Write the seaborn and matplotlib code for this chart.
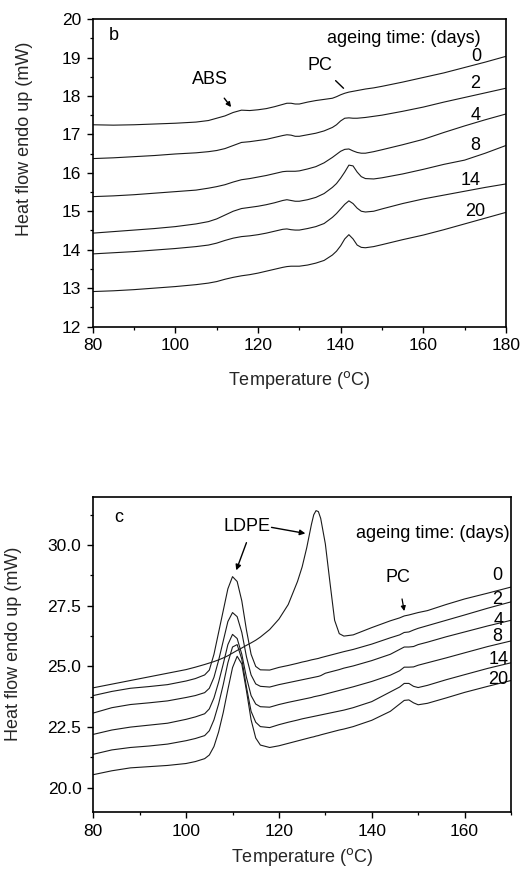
import matplotlib
matplotlib.use("Agg")
import matplotlib.pyplot as plt
import seaborn as sns
import pandas as pd
from matplotlib.ticker import MultipleLocator

# ---------------- data: panel b ----------------
temp_b = [80, 85, 90, 95, 100, 105, 108, 110, 112, 114, 116, 118, 120, 122, 124,
          126, 127, 128, 129, 130, 132, 134, 136, 138, 139, 140, 141, 142, 143, 144,
          145, 146, 148, 150, 155, 160, 165, 170, 175, 180]
b_day0 = [17.25, 17.24, 17.25, 17.27, 17.29, 17.32, 17.36, 17.42, 17.48, 17.57, 17.63, 17.62,
          17.64, 17.67, 17.72, 17.78, 17.81, 17.81, 17.79, 17.79, 17.84, 17.88, 17.91, 17.94,
          17.98, 18.03, 18.07, 18.10, 18.12, 18.14, 18.16, 18.18, 18.21, 18.25, 18.36, 18.48,
          18.60, 18.74, 18.88, 19.03]
b_day2 = [16.37, 16.39, 16.42, 16.45, 16.49, 16.52, 16.55, 16.58, 16.63, 16.71, 16.79, 16.81,
          16.84, 16.87, 16.92, 16.97, 16.99, 16.98, 16.95, 16.95, 16.99, 17.03, 17.09, 17.18,
          17.25, 17.35, 17.42, 17.43, 17.42, 17.42, 17.43, 17.44, 17.47, 17.50, 17.60, 17.71,
          17.84, 17.96, 18.08, 18.20]
b_day4 = [15.38, 15.40, 15.43, 15.47, 15.51, 15.55, 15.60, 15.64, 15.69, 15.76, 15.82, 15.85,
          15.89, 15.93, 15.98, 16.03, 16.04, 16.04, 16.04, 16.05, 16.10, 16.16, 16.26, 16.40,
          16.48, 16.56, 16.61, 16.62, 16.57, 16.53, 16.51, 16.51, 16.55, 16.60, 16.73, 16.87,
          17.05, 17.22, 17.38, 17.53]
b_day8 = [14.43, 14.47, 14.51, 14.55, 14.60, 14.67, 14.73, 14.80, 14.90, 15.00, 15.07, 15.10,
          15.13, 15.17, 15.22, 15.28, 15.30, 15.28, 15.26, 15.26, 15.30, 15.36, 15.46, 15.62,
          15.72, 15.86, 16.02, 16.20, 16.18, 16.02, 15.90, 15.85, 15.84, 15.87, 15.97, 16.09,
          16.22, 16.33, 16.51, 16.71]
b_day14 = [13.89, 13.92, 13.95, 13.99, 14.03, 14.08, 14.12, 14.17, 14.24, 14.30, 14.34, 14.36,
           14.39, 14.43, 14.48, 14.53, 14.54, 14.52, 14.51, 14.51, 14.55, 14.60, 14.68, 14.84,
           14.94, 15.06, 15.18, 15.27, 15.20, 15.08, 15.00, 14.98, 15.00, 15.06, 15.20, 15.32,
           15.42, 15.52, 15.62, 15.71]
b_day20 = [12.91, 12.93, 12.96, 13.00, 13.04, 13.09, 13.13, 13.17, 13.23, 13.28, 13.32, 13.35,
           13.39, 13.44, 13.49, 13.54, 13.56, 13.57, 13.57, 13.57, 13.60, 13.65, 13.72, 13.86,
           13.96, 14.10, 14.28, 14.39, 14.28, 14.12, 14.06, 14.05, 14.08, 14.13, 14.26, 14.38,
           14.52, 14.67, 14.82, 14.97]

# ---------------- data: panel c ----------------
temp_c = [80, 84, 88, 92, 96, 100, 102, 104, 105, 106, 107, 108, 109, 110, 111, 112, 113,
          114, 115, 116, 118, 120, 122, 124, 125, 126, 127, 127.5, 128, 128.5, 129, 130, 131,
          132, 133, 134, 136, 140, 144, 146, 147, 148, 149, 150, 152, 156, 160, 165, 170]
c_day0 = [24.12, 24.27, 24.42, 24.57, 24.72, 24.87, 24.97, 25.08, 25.14, 25.20, 25.27, 25.35,
          25.44, 25.55, 25.66, 25.76, 25.87, 25.97, 26.08, 26.21, 26.52, 26.95, 27.55, 28.50,
          29.10, 29.90, 30.85, 31.25, 31.42, 31.38, 31.10, 30.05, 28.45, 26.90, 26.35, 26.25,
          26.30, 26.60, 26.88, 27.00, 27.08, 27.12, 27.17, 27.22, 27.30, 27.55, 27.78, 28.02,
          28.27]
c_day2 = [23.80, 23.97, 24.10, 24.17, 24.25, 24.40, 24.50, 24.65, 24.85, 25.50, 26.40, 27.30,
          28.20, 28.70, 28.50, 27.70, 26.50, 25.50, 25.00, 24.86, 24.85, 24.96, 25.04, 25.13,
          25.18, 25.22, 25.27, 25.29, 25.31, 25.33, 25.36, 25.41, 25.46, 25.51, 25.56, 25.61,
          25.70, 25.92, 26.18, 26.30, 26.40, 26.42, 26.50, 26.57, 26.68, 26.90, 27.12, 27.40,
          27.66]
c_day4 = [23.08, 23.30, 23.43, 23.50, 23.58, 23.72, 23.80, 23.92, 24.10, 24.55, 25.25, 26.05,
          26.85, 27.22, 27.05, 26.40, 25.40, 24.65, 24.28, 24.18, 24.15, 24.25, 24.33, 24.41,
          24.45, 24.49, 24.53, 24.55, 24.57, 24.59, 24.62, 24.72, 24.77, 24.82, 24.87, 24.93,
          25.02, 25.24, 25.50, 25.70, 25.80, 25.80, 25.82, 25.90, 26.00, 26.22, 26.42, 26.67,
          26.90]
c_day8 = [22.20, 22.38, 22.50, 22.58, 22.66, 22.82, 22.92, 23.05, 23.25, 23.70, 24.35, 25.10,
          25.90, 26.32, 26.15, 25.50, 24.55, 23.80, 23.45, 23.34, 23.32, 23.43, 23.52, 23.60,
          23.64, 23.68, 23.72, 23.75, 23.77, 23.79, 23.81, 23.86, 23.91, 23.96, 24.01, 24.06,
          24.16, 24.38, 24.64, 24.82, 24.97, 24.97, 24.98, 25.05, 25.15, 25.35, 25.56, 25.82,
          26.05]
c_day14 = [21.38, 21.56, 21.66, 21.72, 21.80, 21.94, 22.03, 22.15, 22.35, 22.80, 23.45, 24.25,
           25.15, 25.80, 25.90, 25.30, 24.15, 23.15, 22.70, 22.52, 22.48, 22.60, 22.70, 22.79,
           22.84, 22.88, 22.92, 22.94, 22.96, 22.98, 23.00, 23.04, 23.08, 23.12, 23.16, 23.20,
           23.30, 23.55, 23.95, 24.15, 24.30, 24.30, 24.18, 24.13, 24.22, 24.45, 24.66, 24.92,
           25.15]
c_day20 = [20.54, 20.70, 20.82, 20.87, 20.92, 21.00, 21.08, 21.20, 21.35, 21.70, 22.30, 23.10,
           24.05, 24.95, 25.42, 25.10, 24.00, 22.80, 22.05, 21.76, 21.66, 21.73, 21.83, 21.93,
           21.98, 22.03, 22.08, 22.10, 22.13, 22.15, 22.18, 22.23, 22.28, 22.33, 22.38, 22.42,
           22.52, 22.78, 23.15, 23.45, 23.60, 23.62, 23.50, 23.42, 23.48, 23.70, 23.93, 24.18,
           24.42]

ageing_days = ["0", "2", "4", "8", "14", "20"]
series_b = [b_day0, b_day2, b_day4, b_day8, b_day14, b_day20]
series_c = [c_day0, c_day2, c_day4, c_day8, c_day14, c_day20]

xticks_b = [80, 100, 120, 140, 160, 180]
yticks_b = [12, 13, 14, 15, 16, 17, 18, 19, 20]
xticks_c = [80, 100, 120, 140, 160]
yticks_c = [20.0, 22.5, 25.0, 27.5, 30.0]

# ---------------- style ----------------
sns.set_theme(style="ticks")
plt.rcParams['font.family'] = ['Liberation Sans', 'DejaVu Sans']
plt.rcParams['axes.edgecolor'] = 'black'
plt.rcParams['axes.linewidth'] = 1.2
plt.rcParams['xtick.color'] = 'black'
plt.rcParams['ytick.color'] = 'black'
plt.rcParams['text.color'] = 'black'

fig = plt.figure(figsize=(5.25, 8.71), dpi=100)
ax_b = fig.add_axes([0.1766, 0.6251, 0.787, 0.353])
ax_c = fig.add_axes([0.1777, 0.0677, 0.7956, 0.3622])

def long_df(temps, series):
    rows = []
    for day, vals in zip(ageing_days, series):
        for t, v in zip(temps, vals):
            rows.append((day, t, v))
    return pd.DataFrame(rows, columns=["days", "T", "Q"])

df_b = long_df(temp_b, series_b)
df_c = long_df(temp_c, series_c)
pal = {d: "#1a1a1a" for d in ageing_days}

for ax, df in ((ax_b, df_b), (ax_c, df_c)):
    sns.lineplot(data=df, x="T", y="Q", hue="days", units="days", estimator=None,
                 palette=pal, linewidth=0.8, legend=False, ax=ax)
    for s in ax.spines.values():
        s.set_visible(True)
        s.set_color('black')
        s.set_linewidth(1.2)
    ax.tick_params(which='major', direction='out', length=4.5, width=1, pad=4)
    ax.tick_params(which='minor', direction='out', length=2.5, width=0.9)
    ax.set_ylabel("Heat flow endo up (mW)", fontsize=13)

ax_b.set_xlabel("Temperature ($^{\\rm o}$C)", fontsize=13, labelpad=11)
ax_c.set_xlabel("Temperature ($^{\\rm o}$C)", fontsize=13, labelpad=5)

# panel b axes
ax_b.set_xlim(80, 180)
ax_b.set_ylim(12, 20)
ax_b.set_xticks(xticks_b)
ax_b.set_yticks(yticks_b)
ax_b.set_xticklabels([str(v) for v in xticks_b], fontsize=12.5)
ax_b.set_yticklabels([str(v) for v in yticks_b], fontsize=12.5)
ax_b.xaxis.set_minor_locator(MultipleLocator(10))
ax_b.yaxis.set_minor_locator(MultipleLocator(0.5))
ax_b.yaxis.set_label_coords(-0.145, 0.61)

# panel c axes
ax_c.set_xlim(80, 170)
ax_c.set_ylim(19, 32)
ax_c.set_xticks(xticks_c)
ax_c.set_yticks(yticks_c)
ax_c.set_xticklabels([str(v) for v in xticks_c], fontsize=12.5)
ax_c.set_yticklabels([f"{v:.1f}" for v in yticks_c], fontsize=12.5)
ax_c.xaxis.set_minor_locator(MultipleLocator(10))
ax_c.yaxis.set_minor_locator(MultipleLocator(1.25))
ax_c.yaxis.set_label_coords(-0.171, 0.534)

# ---------------- annotations panel b ----------------
fs = 13
ax_b.text(85.0, 19.57, "b", fontsize=fs, ha='center', va='center')
ax_b.text(173.8, 19.50, "ageing time: (days)", fontsize=fs, ha='right', va='center')
lab_pos_b = [(172.8, 19.02), (172.6, 18.33), (172.6, 17.48), (172.6, 16.7), (171.4, 15.8), (172.6, 15.0)]
for d, (x, y) in zip(ageing_days, lab_pos_b):
    ax_b.text(x, y, d, fontsize=fs, ha='center', va='center')
ax_b.annotate("ABS", xy=(113.5, 17.71), xytext=(108.4, 18.42), fontsize=fs,
              ha='center', va='center',
              arrowprops=dict(arrowstyle='-|>', color='black', lw=1.0, mutation_scale=7,
                              shrinkA=6, shrinkB=0))
ax_b.annotate("PC", xy=(140.7, 18.2), xytext=(135.1, 18.78), fontsize=fs,
              ha='center', va='center',
              arrowprops=dict(arrowstyle='-', color='black', lw=1.0, shrinkA=3, shrinkB=0))

# ---------------- annotations panel c ----------------
ax_c.text(85.4, 31.15, "c", fontsize=fs, ha='center', va='center')
ax_c.text(169.8, 30.46, "ageing time: (days)", fontsize=fs, ha='right', va='center')
lab_pos_c = [(167.1, 28.73), (167.1, 27.76), (167.3, 26.9), (167.1, 26.22), (167.3, 25.28), (167.3, 24.45)]
for d, (x, y) in zip(ageing_days, lab_pos_c):
    ax_c.text(x, y, d, fontsize=fs, ha='center', va='center')
ax_c.text(113.1, 30.76, "LDPE", fontsize=fs, ha='center', va='center')
ax_c.annotate("", xy=(110.8, 28.96), xytext=(113.0, 30.1),
              arrowprops=dict(arrowstyle='-|>', color='black', lw=1.0, mutation_scale=8,
                              shrinkA=0, shrinkB=0))
ax_c.annotate("", xy=(125.7, 30.48), xytext=(118.4, 30.73),
              arrowprops=dict(arrowstyle='-|>', color='black', lw=1.0, mutation_scale=8,
                              shrinkA=0, shrinkB=0))
ax_c.annotate("PC", xy=(147.0, 27.28), xytext=(145.7, 28.66), fontsize=fs,
              ha='center', va='center',
              arrowprops=dict(arrowstyle='-|>', color='black', lw=0.9, mutation_scale=7,
                              shrinkA=7, shrinkB=0))

fig.savefig("out.png", dpi=100)
